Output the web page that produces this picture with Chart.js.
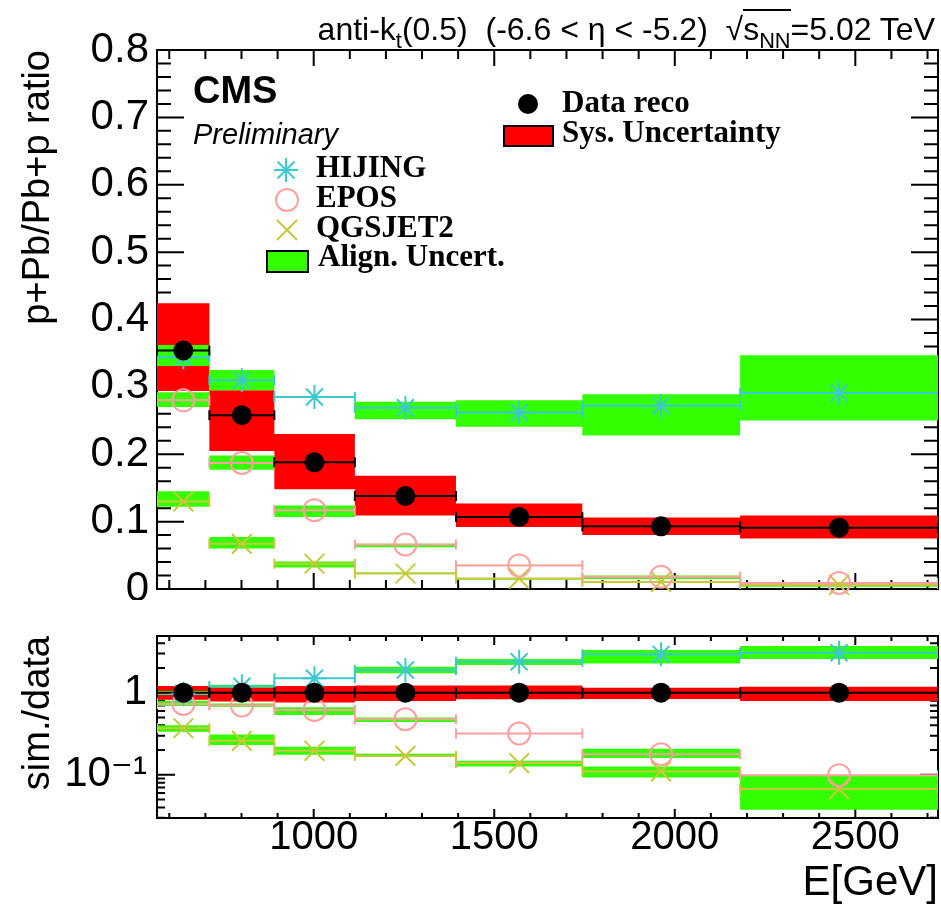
<!DOCTYPE html>
<html>
<head>
<meta charset="utf-8">
<title>p+Pb/Pb+p ratio</title>
<script src="https://cdn.jsdelivr.net/npm/chart.js@4.4.1/dist/chart.umd.min.js"></script>
<style>
  html, body { margin:0; padding:0; background:#fff; }
  #wrap { position:relative; width:941px; height:916px; overflow:hidden; background:#fff; }
  #wrap canvas { position:absolute; left:0; }
  .t { position:absolute; white-space:nowrap; line-height:1; color:#000; margin:0; }
  .sans { font-family:"Liberation Sans", Arial, Helvetica, sans-serif; }
  .serif { font-family:"Liberation Serif", "Times New Roman", serif; font-weight:bold; }
  .t sub { font-size:0.68em; vertical-align:-0.38em; line-height:0; }
  .ov { border-top:2px solid #000; }
  svg.leg { position:absolute; left:0; top:0; }
</style>
</head>
<body>
<div id="wrap">
  <canvas id="cTop" width="941" height="600" style="top:0;width:941px;height:600px"></canvas>
  <canvas id="cBot" width="941" height="316" style="top:600px;width:941px;height:316px"></canvas>
  <svg class="leg" width="941" height="300" viewBox="0 0 941 300">
    <circle cx="528" cy="104" r="10" fill="#000"/>
    <rect x="504" y="126" width="49" height="20" fill="#ff0000" stroke="#000" stroke-width="2"/>
    <g stroke="#3cc8d0" stroke-width="2">
      <line x1="286" y1="158" x2="286" y2="182"/><line x1="274" y1="170" x2="298" y2="170"/>
      <line x1="277.5" y1="161.5" x2="294.5" y2="178.5"/><line x1="277.5" y1="178.5" x2="294.5" y2="161.5"/>
    </g>
    <circle cx="287" cy="200" r="11" fill="none" stroke="#ffa0a0" stroke-width="2"/>
    <g stroke="#c8c83c" stroke-width="2">
      <line x1="277" y1="220" x2="297" y2="240"/><line x1="277" y1="240" x2="297" y2="220"/>
    </g>
    <rect x="267" y="251" width="41" height="21" fill="#33ff00" stroke="#000" stroke-width="2"/>
  </svg>
  <div class="t sans" style="right:6px;top:13px;font-size:32px">anti-k<sub>t</sub>(0.5)&nbsp; (-6.6 &lt; η &lt; -5.2)&nbsp; √<span class="ov">s<sub>NN</sub></span>=5.02 TeV</div>
  <div class="t sans" style="left:193px;top:71px;font-size:38px;font-weight:bold">CMS</div>
  <div class="t sans" style="left:193px;top:120px;font-size:29px;font-style:italic">Preliminary</div>
  <div class="t serif" style="left:562px;top:86px;font-size:31px">Data reco</div>
  <div class="t serif" style="left:562px;top:116px;font-size:31px">Sys. Uncertainty</div>
  <div class="t serif" style="left:316px;top:151px;font-size:31px">HIJING</div>
  <div class="t serif" style="left:316px;top:181px;font-size:31px">EPOS</div>
  <div class="t serif" style="left:316px;top:211px;font-size:31px">QGSJET2</div>
  <div class="t serif" style="left:318px;top:240px;font-size:31px">Align. Uncert.</div>
</div>
<script>
// ---------- binning (E [GeV]) ----------
const binEdges   = [566, 711, 891, 1114, 1394, 1744, 2181, 2729];
const binCenters = [639, 801, 1002, 1254, 1569, 1962, 2455];

// ---------- top panel: p+Pb/Pb+p ratio ----------
const dataReco   = [0.354, 0.258, 0.188, 0.138, 0.107, 0.093, 0.091];
const sysLow     = [0.294, 0.205, 0.148, 0.109, 0.092, 0.080, 0.075];
const sysHigh    = [0.424, 0.295, 0.230, 0.168, 0.127, 0.106, 0.109];
const hijing     = [0.344, 0.310, 0.285, 0.269, 0.262, 0.272, 0.291];
const hijingLow  = [0.331, 0.295, 0.284, 0.252, 0.241, 0.228, 0.250];
const hijingHigh = [0.362, 0.325, 0.286, 0.278, 0.280, 0.289, 0.347];
const epos       = [0.280, 0.187, 0.117, 0.066, 0.035, 0.018, 0.009];
const eposLow    = [0.270, 0.177, 0.107, 0.062, 0.034, 0.015, 0.0085];
const eposHigh   = [0.292, 0.198, 0.124, 0.067, 0.036, 0.020, 0.0095];
const qgsjet     = [0.130, 0.067, 0.0375, 0.023, 0.0155, 0.0105, 0.006];
const qgsjetLow  = [0.122, 0.060, 0.032, 0.0225, 0.0138, 0.0088, 0.0034];
const qgsjetHigh = [0.145, 0.077, 0.041, 0.0245, 0.0162, 0.0118, 0.0088];

// ---------- bottom panel: sim./data ----------
const dataRatio       = [1, 1, 1, 1, 1, 1, 1];
const sysRatioLow     = [0.82, 0.78, 0.76, 0.79, 0.83, 0.84, 0.79];
const sysRatioHigh    = [1.21, 1.18, 1.21, 1.22, 1.22, 1.15, 1.18];
const hijingRatio     = [0.97, 1.20, 1.50, 1.89, 2.38, 2.93, 3.06];
const hijingRatioLow  = [0.94, 1.15, 1.49, 1.72, 2.17, 2.27, 2.57];
const hijingRatioHigh = [1.05, 1.25, 1.51, 2.07, 2.57, 3.30, 3.69];
const eposRatio       = [0.73, 0.70, 0.616, 0.475, 0.318, 0.178, 0.099];
const eposRatioLow    = [0.69, 0.67, 0.535, 0.44, 0.314, 0.16, 0.098];
const eposRatioHigh   = [0.80, 0.74, 0.665, 0.50, 0.322, 0.207, 0.100];
const qgsjetRatio     = [0.369, 0.259, 0.196, 0.170, 0.139, 0.110, 0.067];
const qgsjetRatioLow  = [0.335, 0.23, 0.175, 0.166, 0.126, 0.093, 0.0375];
const qgsjetRatioHigh = [0.40, 0.31, 0.22, 0.18, 0.148, 0.126, 0.097];

// ---------- axes / ticks ----------
const xRange          = [566, 2729];
const xTickValues     = [1000, 1500, 2000, 2500];
const xTickLabels     = ['1000', '1500', '2000', '2500'];
const xMinorTicks     = [600, 700, 800, 900, 1100, 1200, 1300, 1400, 1600, 1700, 1800, 1900, 2100, 2200, 2300, 2400, 2600, 2700];
const topYRange       = [0, 0.8];
const topYTicks       = [0, 0.1, 0.2, 0.3, 0.4, 0.5, 0.6, 0.7, 0.8];
const topYTickLabels  = ['0', '0.1', '0.2', '0.3', '0.4', '0.5', '0.6', '0.7', '0.8'];
const topYMinorTicks  = [0.02, 0.04, 0.06, 0.08, 0.12, 0.14, 0.16, 0.18, 0.22, 0.24, 0.26, 0.28, 0.32, 0.34, 0.36, 0.38,
                         0.42, 0.44, 0.46, 0.48, 0.52, 0.54, 0.56, 0.58, 0.62, 0.64, 0.66, 0.68, 0.72, 0.74, 0.76, 0.78];
const botYRange       = [0.0298, 4.9];
const botYTicks       = [0.1, 1];
const botYTickLabels  = ['10⁻¹', '1'];
const botYMinorTicks  = [0.03, 0.04, 0.05, 0.06, 0.07, 0.08, 0.09, 0.2, 0.3, 0.4, 0.5, 0.6, 0.7, 0.8, 0.9, 2, 3, 4];

// ---------- style ----------
const RED = '#ff0000', GREEN = '#33ff00';
const HIJ_C = '#3cc8d0', EPOS_C = '#ffa0a0', QGS_C = '#c8c83c';
const FAMILY = '"Liberation Sans", "DejaVu Sans", Arial, sans-serif';

// uncertainty band: filled region between two stepped lines (histogram shape)
function band(lo, hi, color, order) {
  const steps = arr => {
    const pts = arr.map((v, i) => ({ x: binEdges[i], y: v }));
    pts.push({ x: binEdges[binEdges.length - 1], y: arr[arr.length - 1] });
    return pts;
  };
  return [
    { data: steps(hi), stepped: true, fill: '+1', backgroundColor: color, borderColor: 'rgba(0,0,0,0)',
      borderWidth: 0, pointRadius: 0, order },
    { data: steps(lo), stepped: true, fill: false, borderColor: 'rgba(0,0,0,0)',
      borderWidth: 0, pointRadius: 0, order }
  ];
}
// horizontal bin-width error bars with end caps
function hbar(vals, color, order) {
  const pts = [];
  vals.forEach((v, i) => {
    pts.push({ x: binEdges[i], y: v });
    pts.push({ x: binEdges[i + 1], y: v });
    pts.push({ x: binEdges[i + 1], y: null });
  });
  return { data: pts, borderColor: color, borderWidth: 2, spanGaps: false, fill: false,
    pointStyle: 'line', rotation: 90, pointRadius: 5, pointBorderColor: color,
    pointBackgroundColor: color, pointBorderWidth: 2, order };
}
function markers(vals, style, color, radius, bg, order) {
  return { data: vals.map((v, i) => ({ x: binCenters[i], y: v })), showLine: false, fill: false,
    pointStyle: style, pointRadius: radius, pointBorderColor: color, pointBackgroundColor: bg,
    pointBorderWidth: style === 'circle' && bg === '#000' ? 0 : 2, clip: false, order };
}
function panel(d, sLo, sHi, h, hLo, hHi, e, eLo, eHi, q, qLo, qHi) {
  return [
    ...band(sLo, sHi, RED, 20),
    ...band(hLo, hHi, GREEN, 15),
    ...band(eLo, eHi, GREEN, 15),
    ...band(qLo, qHi, GREEN, 15),
    hbar(h, HIJ_C, 10), hbar(e, EPOS_C, 10), hbar(q, QGS_C, 10),
    hbar(d, '#000', 8),
    markers(h, 'star', HIJ_C, 12, HIJ_C, 5),
    markers(e, 'circle', EPOS_C, 11, 'rgba(0,0,0,0)', 5),
    markers(q, 'crossRot', QGS_C, 14, QGS_C, 5),
    markers(d, 'circle', '#000', 10, '#000', 1)
  ];
}

// frame + inward ticks (ROOT style), drawn under the data
function frameTicks(cfg) {
  return {
    id: 'frameTicks',
    beforeDatasetsDraw(chart) {
      const { ctx, chartArea: a } = chart;
      const x = chart.scales.x, y = chart.scales.y;
      ctx.save();
      ctx.strokeStyle = '#000'; ctx.lineWidth = 2;
      ctx.beginPath();
      const vx = (vals, len) => vals.forEach(v => {
        const p = x.getPixelForValue(v);
        ctx.moveTo(p, a.bottom); ctx.lineTo(p, a.bottom - len);
        ctx.moveTo(p, a.top); ctx.lineTo(p, a.top + len);
      });
      const vy = (vals, len) => vals.forEach(v => {
        const p = y.getPixelForValue(v);
        ctx.moveTo(a.left, p); ctx.lineTo(a.left + len, p);
        ctx.moveTo(a.right, p); ctx.lineTo(a.right - len, p);
      });
      vx(cfg.xMajor, cfg.xMajorLen); vx(cfg.xMinor, cfg.xMinorLen);
      vy(cfg.yMajor, cfg.yMajorLen); vy(cfg.yMinor, cfg.yMinorLen);
      ctx.stroke();
      ctx.strokeRect(a.left, a.top, a.right - a.left, a.bottom - a.top);
      ctx.restore();
    }
  };
}

const common = {
  responsive: false, animation: false, devicePixelRatio: 1, events: [],
  plugins: { legend: { display: false }, tooltip: { enabled: false } }
};

// ---------- top chart ----------
new Chart(document.getElementById('cTop'), {
  type: 'line',
  data: { datasets: panel(dataReco, sysLow, sysHigh, hijing, hijingLow, hijingHigh,
                          epos, eposLow, eposHigh, qgsjet, qgsjetLow, qgsjetHigh) },
  options: Object.assign({}, common, {
    layout: { autoPadding: false, padding: { top: 50, right: 3, left: 0, bottom: 0 } },
    scales: {
      x: { type: 'linear', min: xRange[0], max: xRange[1],
        grid: { display: false, drawTicks: false }, border: { display: false },
        ticks: { display: false },
        afterBuildTicks: s => { s.ticks = xTickValues.map(v => ({ value: v })); },
        afterFit: s => { s.height = 11; s.paddingLeft = 0; s.paddingRight = 0; } },
      y: { type: 'linear', min: topYRange[0], max: topYRange[1],
        grid: { display: false, drawTicks: false }, border: { display: false },
        ticks: { color: '#000', padding: 8, autoSkip: false, font: { family: FAMILY, size: 42, lineHeight: 1 },
          callback: (v, i) => topYTickLabels[i] },
        afterBuildTicks: s => { s.ticks = topYTicks.map(v => ({ value: v })); },
        afterFit: s => { s.width = 157; s.paddingTop = 0; s.paddingBottom = 0; },
        title: { display: true, text: 'p+Pb/Pb+p ratio', align: 'end', color: '#000',
          font: { family: FAMILY, size: 38 }, padding: { top: 16, bottom: 0 } } }
    }
  }),
  plugins: [frameTicks({ xMajor: xTickValues, xMinor: xMinorTicks, xMajorLen: 16, xMinorLen: 9,
                         yMajor: topYTicks, yMinor: topYMinorTicks, yMajorLen: 27, yMinorLen: 14 })]
});

// ---------- bottom chart ----------
new Chart(document.getElementById('cBot'), {
  type: 'line',
  data: { datasets: panel(dataRatio, sysRatioLow, sysRatioHigh, hijingRatio, hijingRatioLow, hijingRatioHigh,
                          eposRatio, eposRatioLow, eposRatioHigh, qgsjetRatio, qgsjetRatioLow, qgsjetRatioHigh) },
  options: Object.assign({}, common, {
    layout: { autoPadding: false, padding: { top: 36, right: 3, left: 0, bottom: 0 } },
    scales: {
      x: { type: 'linear', min: xRange[0], max: xRange[1],
        grid: { display: false, drawTicks: false }, border: { display: false },
        ticks: { color: '#000', padding: 0, autoSkip: false, maxRotation: 0,
          font: { family: FAMILY, size: 40, lineHeight: 1 }, callback: (v, i) => xTickLabels[i] },
        afterBuildTicks: s => { s.ticks = xTickValues.map(v => ({ value: v })); },
        afterFit: s => { s.height = 98; s.paddingLeft = 0; s.paddingRight = 0; },
        title: { display: true, text: 'E[GeV]', align: 'end', color: '#000',
          font: { family: FAMILY, size: 42 }, padding: { top: 0, bottom: 7 } } },
      y: { type: 'logarithmic', min: botYRange[0], max: botYRange[1],
        grid: { display: false, drawTicks: false }, border: { display: false },
        ticks: { color: '#000', padding: 10, autoSkip: false, font: { family: FAMILY, size: 42, lineHeight: 1 },
          callback: (v, i) => botYTickLabels[i] },
        afterBuildTicks: s => { s.ticks = botYTicks.map(v => ({ value: v })); },
        afterFit: s => { s.width = 157; s.paddingTop = 0; s.paddingBottom = 0; },
        title: { display: true, text: 'sim./data', align: 'end', color: '#000',
          font: { family: FAMILY, size: 38 }, padding: { top: 16, bottom: 0 } } }
    }
  }),
  plugins: [frameTicks({ xMajor: xTickValues, xMinor: xMinorTicks, xMajorLen: 9, xMinorLen: 5,
                         yMajor: botYTicks, yMinor: botYMinorTicks, yMajorLen: 18, yMinorLen: 8 })]
});
</script>
</body>
</html>
